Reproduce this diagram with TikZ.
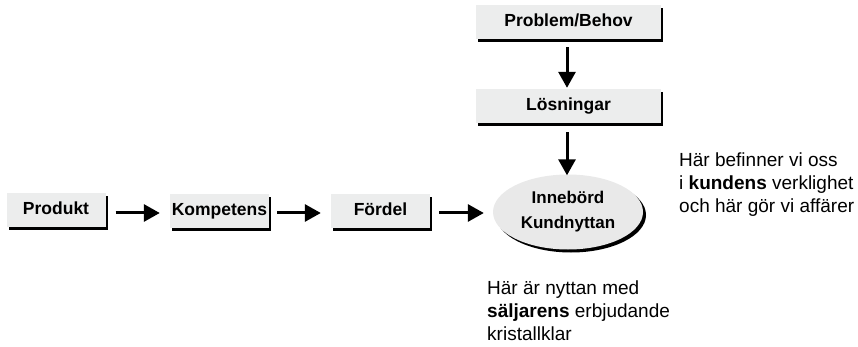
\documentclass[tikz,border=0pt]{standalone}
\usepackage{fontspec}
\setmainfont{Liberation Sans}
\usetikzlibrary{arrows.meta,shadows,shapes.geometric}
\definecolor{boxgray}{HTML}{ECEDED}
\definecolor{ellgray}{HTML}{E9E9E9}
\begin{document}
\begin{tikzpicture}[x=1pt,y=-1pt,
  box/.style={rectangle,fill=boxgray,minimum height=34pt,inner sep=0pt,
    text height=13pt,text depth=4pt,
    font=\fontsize{17.5}{20}\selectfont\bfseries,
    drop shadow={shadow xshift=2pt,shadow yshift=-3pt,fill=black,opacity=1}},
  ell/.style={ellipse,fill=ellgray,minimum width=150pt,minimum height=75pt,inner sep=0pt,
    align=center,font=\fontsize{17}{25}\selectfont\bfseries,
    drop shadow={shadow xshift=3pt,shadow yshift=-3pt,fill=black,opacity=1}},
  arr/.style={line width=3pt,-{Triangle[length=16pt,width=17pt]}},
  note/.style={align=left,anchor=north west,inner sep=0pt,font=\fontsize{19}{23}\selectfont}
]
\useasboundingbox (0,0) rectangle (858,347);
\node[box,minimum width=99pt] (p) at (56,210) {Produkt};
\node[box,minimum width=99pt] (k) at (219.5,211) {Kompetens};
\node[box,minimum width=99pt] (f) at (380.5,211) {Fördel};
\node[box,minimum width=185pt] (pb) at (568.5,22) {Problem/Behov};
\node[box,minimum width=185pt] (l) at (568.5,106) {Lösningar};
\node[ell] (e) at (568,212) {Innebörd\\Kundnyttan};
\draw[arr] ([xshift=10pt]p.east |- 0,213) -- ([xshift=-10pt]k.west |- 0,213);
\draw[arr] ([xshift=8pt]k.east |- 0,213) -- ([xshift=-10pt]f.west |- 0,213);
\draw[arr] ([xshift=9pt]f.east |- 0,213) -- ([xshift=-9pt]e.west |- 0,213);
\draw[arr] ([yshift=-8pt]pb.south -| 567,0) -- ([yshift=1pt]l.north -| 567,0);
\draw[arr] ([yshift=-9pt]l.south -| 567,0) -- ([yshift=-1pt]e.north -| 567,0);
\node[note] (t1) at (487,281) {Här är nyttan med\\\textbf{säljarens} erbjudande\\kristallklar};
\node[note] (t2) at (679,153) {Här befinner vi oss\\i \textbf{kundens} verklighet\\och här gör vi affärer};
\end{tikzpicture}
\end{document}
